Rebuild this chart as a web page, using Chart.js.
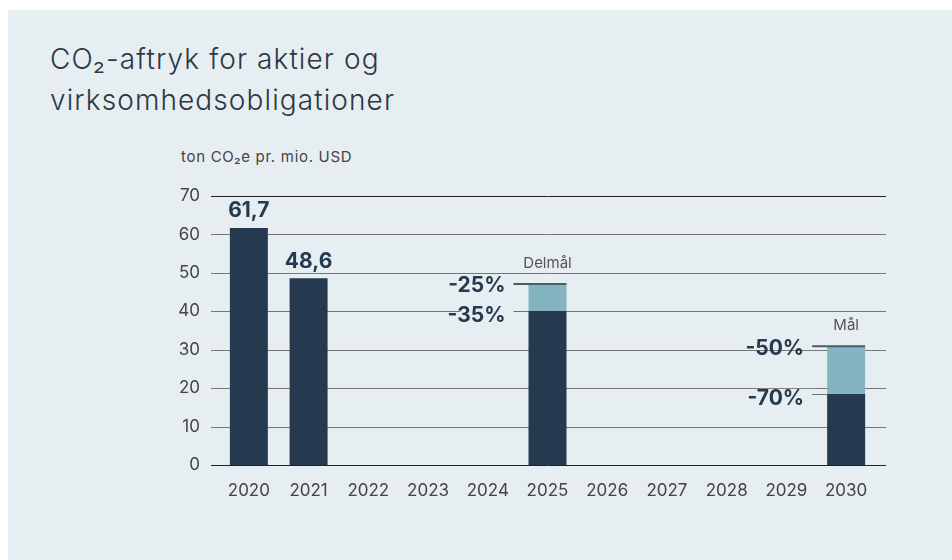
<!DOCTYPE html>
<html lang="da">
<head>
  <meta charset="UTF-8">
  <title>CO2-aftryk for aktier og virksomhedsobligationer</title>
  <style>
    * { margin: 0; padding: 0; box-sizing: border-box; }
    body { width: 952px; height: 560px; background: #fff; position: relative; overflow: hidden; font-family: Inter, sans-serif; }
    .panel { position: absolute; left: 8px; top: 10px; width: 944px; height: 550px; background: #e6eef1; }
    h1 { position: absolute; left: 50px; top: 39px; font-weight: 300; font-size: 28px; line-height: 41px; color: #2b3845; letter-spacing: 1.1px; }
    .unit { position: absolute; left: 181px; top: 147px; font-size: 15px; color: #444; letter-spacing: 0.7px; }
    canvas { position: absolute; left: 0; top: 0; }
  </style>
  <script src="https://cdn.jsdelivr.net/npm/chart.js"></script>
</head>
<body>
  <div class="panel"></div>
  <h1>CO₂-aftryk for aktier og<br>virksomhedsobligationer</h1>
  <div class="unit">ton CO₂e pr. mio. USD</div>
  <canvas id="chart" width="952" height="560"></canvas>

  <script>
    const years = ["2020", "2021", "2022", "2023", "2024", "2025", "2026", "2027", "2028", "2029", "2030"];
    // actual / reduction-target part (dark) and the remaining part up to the milder target (light)
    const darkValues = [61.7, 48.6, null, null, null, 40.1, null, null, null, null, 18.5];
    const lightValues = [null, null, null, null, null, 7.0, null, null, null, null, 12.4];
    const valueLabels = ["61,7", "48,6", "", "", "", "", "", "", "", "", ""];
    const goalLabels = ["", "", "", "", "", "Delmål", "", "", "", "", "Mål"];
    const upperPct = ["", "", "", "", "", "-25%", "", "", "", "", "-50%"];
    const lowerPct = ["", "", "", "", "", "-35%", "", "", "", "", "-70%"];
    const yTicks = [0, 10, 20, 30, 40, 50, 60, 70];

    const DARK = "#253a4f";
    const LIGHT = "#84b4bf";
    const BG = "#e6eef1";
    const FONT = "Inter";

    const gridPlugin = {
      id: "grid",
      beforeDatasetsDraw(chart) {
        const { ctx, chartArea, scales } = chart;
        ctx.save();
        for (const v of yTicks) {
          const y = Math.round(scales.y.getPixelForValue(v)) + 0.5;
          ctx.strokeStyle = (v === 0 || v === 70) ? "#222" : "#777";
          ctx.lineWidth = 1;
          ctx.beginPath();
          ctx.moveTo(chartArea.left - 8, y);
          ctx.lineTo(chartArea.right + 10, y);
          ctx.stroke();
        }
        ctx.restore();
      }
    };

    const labelPlugin = {
      id: "labels",
      afterDatasetsDraw(chart) {
        const { ctx, scales } = chart;
        const darkMeta = chart.getDatasetMeta(0);
        ctx.save();
        ctx.textBaseline = "middle";
        years.forEach((yr, i) => {
          const bar = darkMeta.data[i];
          if (!bar || darkValues[i] == null) return;
          const half = bar.width / 2;
          const left = bar.x - half;
          const right = bar.x + half;
          const total = darkValues[i] + (lightValues[i] || 0);
          const topY = scales.y.getPixelForValue(total);
          const lowY = scales.y.getPixelForValue(darkValues[i]);

          if (valueLabels[i]) {
            ctx.fillStyle = DARK;
            ctx.font = "bold 21px " + FONT;
            ctx.textAlign = "center";
            ctx.fillText(valueLabels[i], bar.x, topY - 17);
          }
          if (goalLabels[i]) {
            ctx.fillStyle = "#555";
            ctx.font = "15px " + FONT;
            ctx.textAlign = "center";
            ctx.fillText(goalLabels[i], bar.x, topY - 21);

            // background box behind lower label, hides the grid
            ctx.fillStyle = BG;
            ctx.fillRect(left - 68, lowY - 5, 54, 22);

            ctx.strokeStyle = "#4b5b68";
            ctx.lineWidth = 2;
            ctx.beginPath();
            ctx.moveTo(left - 15, topY);
            ctx.lineTo(right, topY);
            ctx.stroke();

            ctx.strokeStyle = "#6a7580";
            ctx.lineWidth = 1;
            ctx.beginPath();
            ctx.moveTo(left - 15, Math.round(lowY) + 0.5);
            ctx.lineTo(left, Math.round(lowY) + 0.5);
            ctx.stroke();

            ctx.fillStyle = DARK;
            ctx.font = "bold 21px " + FONT;
            ctx.textAlign = "right";
            ctx.fillText(upperPct[i], left - 23, topY + 2);
            ctx.fillText(lowerPct[i], left - 23, lowY + 5);
          }
        });
        ctx.restore();
      }
    };

    new Chart(document.getElementById("chart"), {
      type: "bar",
      data: {
        labels: years,
        datasets: [
          { label: "CO2", data: darkValues, backgroundColor: DARK, barPercentage: 0.636, categoryPercentage: 1 },
          { label: "Mål", data: lightValues, backgroundColor: LIGHT, barPercentage: 0.636, categoryPercentage: 1 }
        ]
      },
      options: {
        responsive: false,
        animation: false,
        layout: { padding: { top: 196, right: 76, left: 0, bottom: 0 } },
        plugins: { legend: { display: false }, tooltip: { enabled: false } },
        scales: {
          x: {
            stacked: true,
            grid: { display: false, drawTicks: false },
            border: { display: false },
            ticks: { color: "#444", font: { family: FONT, size: 17 }, padding: 16 },
            afterFit(scale) { scale.height = 95; }
          },
          y: {
            stacked: true,
            min: 0,
            max: 70,
            grid: { display: false, drawTicks: false },
            border: { display: false },
            ticks: { stepSize: 10, color: "#444", font: { family: FONT, size: 17 }, padding: 19 },
            afterFit(scale) { scale.width = 219; }
          }
        }
      },
      plugins: [gridPlugin, labelPlugin]
    });
  </script>
</body>
</html>
